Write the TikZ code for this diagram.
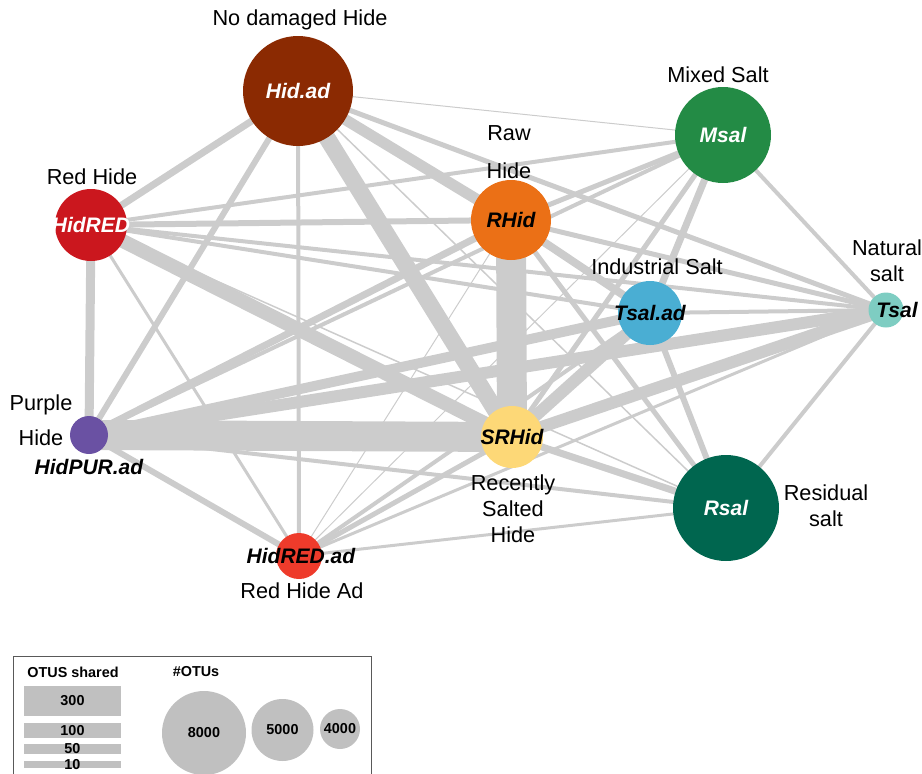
\documentclass[tikz,border=0pt]{standalone}
\usepackage{fontspec}
\setmainfont{Liberation Sans}
\usetikzlibrary{backgrounds}
\definecolor{linkgray}{RGB}{204,204,204}
\definecolor{keygray}{RGB}{192,192,192}
\definecolor{cHid}{RGB}{139,42,2}
\definecolor{cHidRED}{RGB}{203,23,30}
\definecolor{cRHid}{RGB}{235,112,22}
\definecolor{cMsal}{RGB}{35,139,69}
\definecolor{cTsalad}{RGB}{74,174,211}
\definecolor{cTsal}{RGB}{126,205,194}
\definecolor{cHidPUR}{RGB}{106,81,163}
\definecolor{cSRHid}{RGB}{253,216,119}
\definecolor{cRsal}{RGB}{0,102,79}
\definecolor{cHidREDad}{RGB}{238,59,43}
\newcommand\lblfont{\fontsize{21.7}{26}\selectfont}
\newcommand\tagfont{\fontsize{21}{25}\selectfont\bfseries\itshape}
\newcommand\keyfont{\fontsize{14.4}{17}\selectfont\bfseries}

\begin{document}
\begin{tikzpicture}[x=1pt,y=-1pt,
  otu/.style={circle,inner sep=0pt,minimum size=#1pt},
  tag/.style={font=\tagfont,inner sep=0pt},
  lbl/.style={align=center,font=\lblfont,inner sep=0pt},
  link/.style={draw=linkgray,line width=#1pt},
  key/.style={fill=keygray,inner sep=0pt,font=\keyfont}]
\useasboundingbox (0,0) rectangle (922,774);
% samples
\node[otu=110,fill=cHid,label={[tag,white]center:Hid.ad}] (hid) at (298,91) {};
\node[otu=72,fill=cHidRED,label={[tag,white]center:HidRED}] (hidred) at (91,225) {};
\node[otu=80,fill=cRHid,label={[tag]center:RHid}] (rhid) at (511,220) {};
\node[otu=96,fill=cMsal,label={[tag,white]center:Msal}] (msal) at (723,135) {};
\node[otu=64,fill=cTsalad,label={[tag]center:Tsal.ad}] (tsalad) at (650,313) {};
\node[otu=35,fill=cTsal,label={[tag,xshift=11pt]center:Tsal}] (tsal) at (886,310) {};
\node[otu=38,fill=cHidPUR] (hidpur) at (89,435) {};
\node[otu=62,fill=cSRHid,label={[tag]center:SRHid}] (srhid) at (512,437) {};
\node[otu=106,fill=cRsal,label={[tag,white]center:Rsal}] (rsal) at (726,508) {};
\node[otu=46,fill=cHidREDad,label={[tag,xshift=2pt]center:HidRED.ad}] (hidredad) at (299,556) {};
% names
\node[lbl] (hidname) at (300,20) {No damaged Hide};
\node[lbl] (hidredname) at (92,177) {Red Hide};
\node[lbl] (rhidname) at (509,152) {Raw\\[12pt]Hide};
\node[lbl] (msalname) at (718,75) {Mixed Salt};
\node[lbl] (tsaladname) at (657,267) {Industrial Salt};
\node[lbl] (tsalname) at (887,261) {Natural\\salt};
\node[lbl] (hidpurname) at (41,420) {Purple\\[9pt]Hide};
\node[tag] (hidpurtag) at (89,467) {HidPUR.ad};
\node[lbl] (srhidname) at (513,509) {Recently\\Salted\\Hide};
\node[lbl] (hidredadname) at (302,591) {Red Hide Ad};
\node[lbl] (rsalname) at (826,506) {Residual\\salt};
% shared OTUs
\begin{scope}[on background layer]
\draw[link=17] (hid.center)--(srhid.center);
\draw[link=11] (hid.center)--(rhid.center);
\draw[link=7] (hid.center)--(hidred.center);
\draw[link=6] (hid.center)--(hidpur.center);
\draw[link=5] (hid.center)--(tsal.center);
\draw[link=4] (hid.center)--(hidredad.center);
\draw[link=1] (hid.center)--(msal.center);
\draw[link=1] (hid.center)--(tsalad.center);
\draw[link=1.5] (hid.center)--(rsal.center);
\draw[link=14] (hidred.center)--(srhid.center);
\draw[link=9] (hidred.center)--(hidpur.center);
\draw[link=6] (hidred.center)--(rhid.center);
\draw[link=4] (hidred.center)--(msal.center);
\draw[link=4] (hidred.center)--(tsalad.center);
\draw[link=4] (hidred.center)--(tsal.center);
\draw[link=3] (hidred.center)--(hidredad.center);
\draw[link=1.5] (hidred.center)--(rsal.center);
\draw[link=30] (rhid.center)--(srhid.center);
\draw[link=8] (rhid.center)--(tsalad.center);
\draw[link=7] (rhid.center)--(hidpur.center);
\draw[link=5] (rhid.center)--(msal.center);
\draw[link=5] (rhid.center)--(tsal.center);
\draw[link=5] (rhid.center)--(rsal.center);
\draw[link=1] (rhid.center)--(hidredad.center);
\draw[link=7] (msal.center)--(tsalad.center);
\draw[link=4] (msal.center)--(tsal.center);
\draw[link=4] (msal.center)--(hidpur.center);
\draw[link=5] (msal.center)--(srhid.center);
\draw[link=1] (msal.center)--(hidredad.center);
\draw[link=12] (tsalad.center)--(srhid.center);
\draw[link=10] (tsalad.center)--(hidpur.center);
\draw[link=6] (tsalad.center)--(rsal.center);
\draw[link=4] (tsalad.center)--(tsal.center);
\draw[link=4] (tsalad.center)--(hidredad.center);
\draw[link=12] (tsal.center)--(srhid.center);
\draw[link=12] (tsal.center)--(hidpur.center);
\draw[link=4] (tsal.center)--(rsal.center);
\draw[link=3] (tsal.center)--(hidredad.center);
\draw[link=30] (hidpur.center)--(srhid.center);
\draw[link=6] (hidpur.center)--(hidredad.center);
\draw[link=4] (hidpur.center)--(rsal.center);
\draw[link=7] (srhid.center)--(rsal.center);
\draw[link=5] (srhid.center)--(hidredad.center);
\draw[link=3] (rsal.center)--(hidredad.center);
\end{scope}
% legend
\draw[draw=black!65,line width=1pt] (13,790) rectangle (371,656);
\node[font=\keyfont] (sharedhead) at (73,672) {OTUS shared};
\node[font=\keyfont] (otuhead) at (196,672) {\#OTUs};
\node[key,minimum width=97pt,minimum height=30pt] (k300) at (72.5,701) {300};
\node[key,minimum width=97pt,minimum height=15pt,label={[font=\keyfont]center:100}] (k100) at (72.5,730.5) {};
\node[key,minimum width=97pt,minimum height=10pt,label={[font=\keyfont]center:50}] (k50) at (72.5,749) {};
\node[key,minimum width=97pt,minimum height=7pt,label={[font=\keyfont]center:10}] (k10) at (72.5,764.5) {};
\node[key,circle,minimum size=84pt] (k8000) at (204,733) {8000};
\node[key,circle,minimum size=62pt] (k5000) at (282.5,730) {5000};
\node[key,circle,minimum size=40pt] (k4000) at (340,729) {4000};
\end{tikzpicture}
\end{document}
